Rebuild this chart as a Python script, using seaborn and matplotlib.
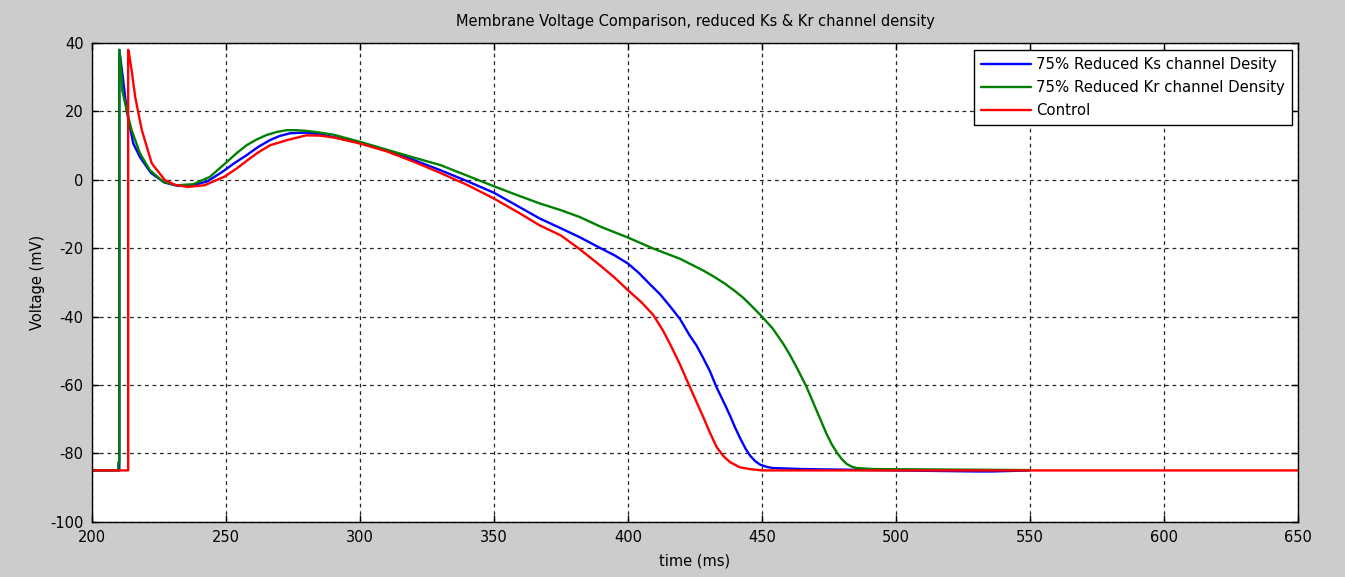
import matplotlib
matplotlib.use("Agg")
import matplotlib.pyplot as plt
import seaborn as sns
import pandas as pd

# ---- data ----
series_names = ["75% Reduced Ks channel Desity", "75% Reduced Kr channel Density", "Control"]

t_ks = [200, 210.2, 210.2, 211.5, 213, 215.4, 218, 222, 227, 232, 237, 243, 249, 253, 257.7, 262, 266.4,
        270, 273.9, 280, 285, 290, 300, 310, 320, 330, 340, 350, 360, 367, 375, 382, 390, 395, 400,
        404, 408, 412, 416, 419.4, 423, 425.6, 428, 430.6, 433, 436.2, 438.1, 440, 442, 444,
        445.5, 447.5, 449.3, 452, 454, 465, 500, 530, 536, 550]
v_ks = [-85, -85, 38, 30, 20, 10.6, 6.5, 2.0, -0.8, -1.8, -1.7, -0.5, 2.5, 4.8, 7.2, 9.6, 11.6,
        12.8, 13.6, 13.8, 13.3, 12.5, 10.8, 8.5, 5.8, 2.8, -0.4, -3.8, -8.2, -11.3, -14.2, -16.8, -20.1, -22.1, -24.5,
        -27.2, -30.4, -33.5, -37.3, -40.7, -45.5, -48.5, -52, -56, -60.6, -65.8, -69, -72.5, -75.8, -78.8,
        -80.6, -82.3, -83.3, -84.0, -84.3, -84.6, -85, -85.3, -85.3, -85]

t_kr = [200, 209.8, 209.8, 210.2, 210.2, 211.1, 211.3, 212.9, 214.8, 217.9, 221.6, 226.6, 231.6,
        237.8, 244, 250.3, 254, 257.7, 261.5, 265.2, 269, 272.6, 276, 280, 285, 290, 300, 310, 320, 330,
        340, 350, 358, 367, 375, 382, 390, 400, 409.4, 419.4, 428, 432, 436.2, 440, 443, 446, 450,
        454, 457.9, 460.5, 462.9, 466.6, 468.5, 470.4, 472.3, 474.1, 476, 477.9, 479.8, 481.6,
        483.5, 485.3, 491.5, 550]
v_kr = [-85, -85, -82.6, -82.6, 38, 30, 26.2, 20.4, 14.5, 7.7, 2.8, -0.6, -1.6,
        -1.3, 0.85, 5.2, 7.8, 10.1, 11.8, 13.1, 14.0, 14.5, 14.5, 14.3, 13.8, 13.2, 11.1, 8.8, 6.5, 4.3,
        1.2, -1.9, -4.3, -6.9, -8.9, -10.9, -13.8, -16.9, -20.1, -23.1, -26.5, -28.3, -30.4, -32.6, -34.5, -36.8, -40,
        -43.5, -47.9, -51.3, -54.8, -60.5, -64, -67.5, -71, -74.3, -77.3, -79.7, -81.7, -83.1,
        -83.9, -84.3, -84.6, -84.9]

t_ctrl = [200, 213.5, 213.5, 213.8, 214.8, 216.1, 218.6, 222.3, 227.2, 231, 235.8, 242, 249.4,
          254, 258, 262, 266.5, 272.8, 280, 285, 290, 300, 310, 320, 330, 340, 350, 360, 367, 375, 382,
          390, 395, 400, 405, 409.4, 413, 416, 419.4, 423.1, 425.6, 428.1, 430.6, 433.1, 435.6, 438.1,
          441.8, 445.5, 450, 500, 550, 600, 650]
v_ctrl = [-85, -85, 38, 37, 32, 24.3, 14.5, 4.8, -0.1, -1.5, -2.1, -1.6, 0.9,
          3.3, 5.7, 8.0, 10.1, 11.6, 13.0, 12.9, 12.4, 10.6, 8.3, 5.3, 2.0, -1.5, -5.5, -10, -13.3, -16.3, -20.3,
          -25.3, -28.6, -32.3, -35.8, -39.5, -44, -48.5, -54, -60.6, -65, -69.4, -74, -78.2, -80.8, -82.6,
          -84.1, -84.6, -85, -85, -85, -85, -85]

colors = ["#0000ff", "#008000", "#ff0000"]
x_ticks = [200, 250, 300, 350, 400, 450, 500, 550, 600, 650]
y_ticks = [-100, -80, -60, -40, -20, 0, 20, 40]

# ---- style ----
sns.set_theme(style="white")
plt.rcParams["font.family"] = ["DejaVu Sans"]
plt.rcParams["axes.unicode_minus"] = False

fig = plt.figure(figsize=(13.45, 5.77), dpi=100, facecolor="#cccccc")
ax = fig.add_axes([0.0684, 0.0958, 0.8966, 0.8297])
ax.set_facecolor("white")

datasets = [(t_ks, v_ks), (t_kr, v_kr), (t_ctrl, v_ctrl)]
for (t, v), name, c in zip(datasets, series_names, colors):
    df = pd.DataFrame({"t": t, "v": v})
    sns.lineplot(data=df, x="t", y="v", ax=ax, color=c, linewidth=1.7,
                 estimator=None, sort=False, label=name)

ax.set_xlim(200, 650)
ax.set_ylim(-100, 40)
ax.set_xticks(x_ticks)
ax.set_yticks(y_ticks)
ax.tick_params(direction="in", length=5, width=1, colors="black", labelsize=10.5,
               top=True, right=True, bottom=True, left=True, pad=6)
ax.grid(True, color="black", linestyle=(0, (3, 3)), linewidth=0.9, alpha=0.85)
for s in ax.spines.values():
    s.set_color("black")
    s.set_linewidth(1.0)

ax.set_xlabel("time (ms)", fontsize=10.5, color="black", labelpad=6)
ax.set_ylabel("Voltage (mV)", fontsize=10.5, color="black", labelpad=4)
ax.set_title("Membrane Voltage Comparison, reduced Ks & Kr channel density",
             fontsize=10.5, color="black", pad=12)

leg = ax.legend(loc="upper right", fontsize=10.7, frameon=True, fancybox=False,
                borderpad=0.45, labelspacing=0.55, handlelength=3.4, handletextpad=0.35,
                borderaxespad=0, bbox_to_anchor=(0.995, 0.985), labelcolor="black")
leg.get_frame().set_edgecolor("black")
leg.get_frame().set_linewidth(1.0)
leg.get_frame().set_facecolor("white")
leg.get_frame().set_alpha(1.0)

fig.savefig("out.png", dpi=100, facecolor=fig.get_facecolor())
